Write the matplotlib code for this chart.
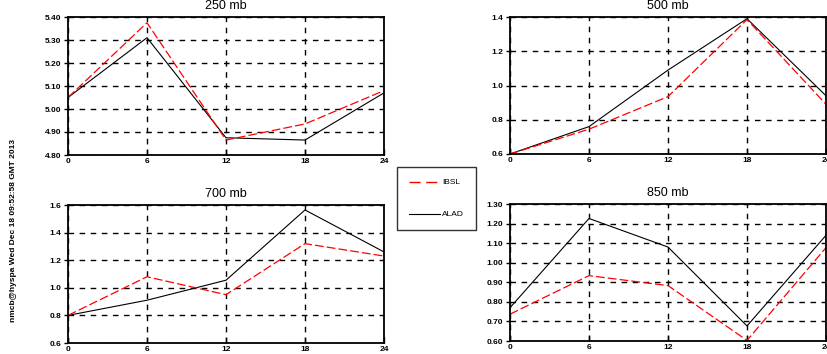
import matplotlib.pyplot as plt
from matplotlib.lines import Line2D

plt.rcParams['font.family'] = ['Liberation Sans', 'DejaVu Sans']

# forecast hours
hours = [0, 6, 12, 18, 24]

# rms error per level
ibsl_250 = [5.05, 5.375, 4.865, 4.935, 5.08]
alad_250 = [5.05, 5.31, 4.875, 4.865, 5.07]
ibsl_500 = [0.60, 0.745, 0.935, 1.385, 0.89]
alad_500 = [0.60, 0.76, 1.09, 1.39, 0.94]
ibsl_700 = [0.80, 1.08, 0.95, 1.32, 1.23]
alad_700 = [0.80, 0.91, 1.055, 1.564, 1.26]
ibsl_850 = [0.737, 0.934, 0.883, 0.603, 1.077]
alad_850 = [0.77, 1.226, 1.08, 0.677, 1.14]

titles = ["250 mb", "500 mb", "700 mb", "850 mb"]
yticks = [
    [4.80, 4.90, 5.00, 5.10, 5.20, 5.30, 5.40],
    [0.6, 0.8, 1.0, 1.2, 1.4],
    [0.6, 0.8, 1.0, 1.2, 1.4, 1.6],
    [0.60, 0.70, 0.80, 0.90, 1.00, 1.10, 1.20, 1.30],
]
yfmt = ["%.2f", "%.1f", "%.1f", "%.2f"]
series = [(ibsl_250, alad_250), (ibsl_500, alad_500),
          (ibsl_700, alad_700), (ibsl_850, alad_850)]

W, H = 827, 354
fig = plt.figure(figsize=(W / 100, H / 100), dpi=100)

# panel boxes in pixels: left, top, right, bottom
boxes = [(68, 17, 384, 155), (510, 17, 826, 154),
         (68, 205, 384, 343), (510, 204, 826, 341)]

red_dash = (0, (7, 2.5))

for (l, t, r, b), title, yt, fmt, (ib, al) in zip(boxes, titles, yticks, yfmt, series):
    ax = fig.add_axes([l / W, 1 - b / H, (r - l) / W, (b - t) / H])
    ax.plot(hours, al, color="black", linewidth=0.8)
    ax.plot(hours, ib, color="red", linewidth=0.9, linestyle=red_dash)
    ax.set_xlim(0, 24)
    ax.set_ylim(yt[0], yt[-1])
    ax.set_xticks(hours)
    ax.set_yticks(yt)
    ax.set_yticklabels([fmt % v for v in yt])
    ax.grid(True, color="black", linestyle=(0, (4, 4)), linewidth=1.0)
    ax.tick_params(axis="both", labelsize=6, width=1.0, length=3, pad=2)
    ax.tick_params(axis="x", direction="in", length=4)
    for lab in ax.get_xticklabels() + ax.get_yticklabels():
        lab.set_fontweight("bold")
    for sp in ax.spines.values():
        sp.set_linewidth(1.3)
    ax.set_title(title, fontsize=9, pad=6)

# legend box between the panels
handles = [Line2D([], [], color="red", linewidth=1.0, linestyle=(0, (8, 4))),
           Line2D([], [], color="black", linewidth=0.8)]
leg = fig.legend(handles, ["IBSL", "ALAD"], loc="upper left",
                 bbox_to_anchor=(397 / W, 1 - 167 / H), fontsize=6,
                 frameon=True, fancybox=False, edgecolor="black",
                 markerfirst=True, handlelength=3.8, handletextpad=0.2,
                 labelspacing=2.9, borderpad=1.4, borderaxespad=0)
leg.get_frame().set_linewidth(1.0)

fig.text(14 / W, 1 - 230 / H, "nmcb@hyspa Wed Dec 18 09:52:58 GMT 2013",
         rotation=90, fontsize=6, fontweight="bold", ha="center", va="center")

fig.savefig("out.png", dpi=100)
